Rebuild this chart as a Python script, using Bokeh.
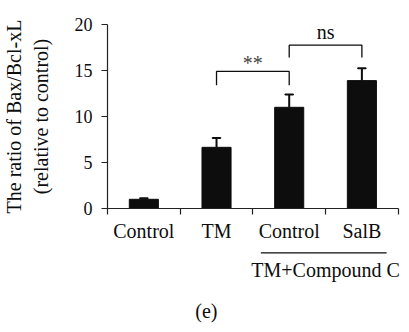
from bokeh.plotting import figure
from bokeh.models import FixedTicker, ColumnDataSource, Range1d
from bokeh.layouts import column
from bokeh.embed import file_html
from bokeh.resources import INLINE
from bokeh.core.properties import value

# data
categories = ["Control", "TM", "Control", "SalB"]
means = [1.0, 6.65, 11.0, 13.9]
errors = [0.12, 1.0, 1.4, 1.35]
y_ticks = [0, 5, 10, 15, 20]
y_label = "The ratio of Bax/Bcl-xL\n(relative to control)"
group_label = "TM+Compound C"
group_members = [2, 3]
panel_label = "(e)"
# significance comparisons: (left index, right index, text)
comparisons = [(1, 2, "**"), (2, 3, "ns")]

FONT = "Liberation Serif, serif"
BLACK = "#0d0d0d"
W = 408
LEFT, RIGHT = 106, 3
TOP_H = 218
BOT_H = 114

xs = [i + 0.5 for i in range(len(categories))]
x_end = 4.1

# ---------- main plot ----------
p = figure(width=W, height=TOP_H, x_range=Range1d(0, x_end), y_range=(0, 20),
           output_backend="svg", toolbar_location=None,
           min_border_left=LEFT, min_border_right=RIGHT, min_border_top=24, min_border_bottom=10)
p.outline_line_color = None
p.grid.grid_line_color = None

src = ColumnDataSource(dict(x=xs, top=means, err_top=[m + e for m, e in zip(means, errors)]))
p.vbar(x="x", top="top", bottom=0, width=0.4, source=src, fill_color=BLACK, line_color=BLACK)
p.segment(x0="x", y0="top", x1="x", y1="err_top", source=src, line_color=BLACK, line_width=2)
p.rect(x="x", y="err_top", width=0.11, height=0.0001, source=src, line_color=BLACK, line_width=2)

# brackets (heights: leg bottom, bar top, text middle)
bracket_levels = [(13.4, 14.9, 15.8), (16.4, 17.75, 19.15)]
for (i, j, txt), (lo, hi, ty) in zip(comparisons, bracket_levels):
    p.line([xs[i], xs[i], xs[j], xs[j]], [lo, hi, hi, lo], line_color=BLACK, line_width=1.3)
    p.text(x=[(xs[i] + xs[j]) / 2], y=[ty], text=[txt], text_align="center",
           text_baseline="middle", text_font=value(FONT),
           text_font_size="20px", text_color=BLACK if txt == "ns" else "#444444")

p.xaxis.bounds = (0, len(categories))
p.xaxis.ticker = FixedTicker(ticks=list(range(len(categories) + 1)))
p.xaxis.major_label_text_font_size = "0px"
p.xaxis.major_label_text_color = None
p.xaxis.major_label_standoff = 0
p.xaxis.minor_tick_line_color = None
p.xaxis.major_tick_out = 6
p.xaxis.major_tick_in = 0
p.xaxis.axis_line_color = "#222222"
p.xaxis.major_tick_line_color = "#222222"
p.xaxis.axis_line_width = 1.2
p.xaxis.major_tick_line_width = 1.2

p.yaxis.ticker = FixedTicker(ticks=y_ticks)
p.yaxis.minor_tick_line_color = None
p.yaxis.major_tick_out = 6
p.yaxis.major_tick_in = 0
p.yaxis.axis_line_color = "#222222"
p.yaxis.major_tick_line_color = "#222222"
p.yaxis.axis_line_width = 1.2
p.yaxis.major_tick_line_width = 1.2
p.yaxis.major_label_text_font = FONT
p.yaxis.major_label_text_font_size = "18px"
p.yaxis.major_label_text_color = BLACK
p.yaxis.major_label_standoff = 9
p.yaxis.axis_label = y_label
p.yaxis.axis_label_text_font = FONT
p.yaxis.axis_label_text_font_size = "20px"
p.yaxis.axis_label_text_font_style = "normal"
p.yaxis.axis_label_text_color = BLACK
p.yaxis.axis_label_standoff = 20

# ---------- labels strip under the axis (same x scale, y in pixels downward) ----------
q = figure(width=W, height=BOT_H, x_range=p.x_range,
           y_range=Range1d(TOP_H + BOT_H, TOP_H),
           output_backend="svg", toolbar_location=None,
           x_axis_location=None, y_axis_location=None,
           min_border_left=LEFT, min_border_right=RIGHT, min_border_top=0, min_border_bottom=0)
q.outline_line_color = None
q.grid.grid_line_color = None

q.text(x=xs, y=[230.5] * len(xs), text=categories, text_align="center", text_baseline="middle",
       text_font=value(FONT), text_font_size="20px", text_color=BLACK)

g0 = xs[group_members[0]] - 0.39
g1 = xs[group_members[-1]] + 0.34
q.segment(x0=[g0], y0=[252.3], x1=[g1], y1=[252.3], line_color=BLACK, line_width=1.3)
q.text(x=[(xs[group_members[0]] + xs[group_members[-1]]) / 2], y=[269.0], text=[group_label],
       text_align="center", text_baseline="middle",
       text_font=value(FONT), text_font_size="20px", text_color=BLACK)
q.text(x=[1.36], y=[310], text=[panel_label], text_align="center", text_baseline="middle",
       text_font=value(FONT), text_font_size="20px", text_color=BLACK)

layout = column(p, q, spacing=0)
open("out.html", "w").write(file_html(layout, INLINE))
